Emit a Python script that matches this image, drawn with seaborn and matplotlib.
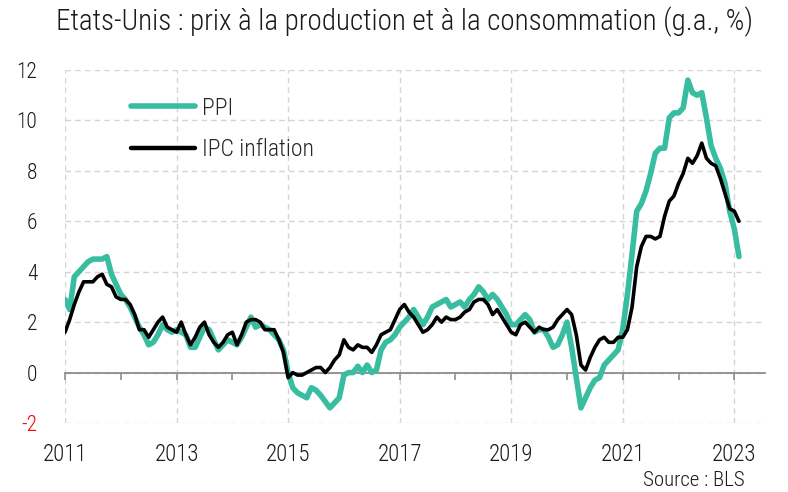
import numpy as np
import pandas as pd
import matplotlib
matplotlib.use("Agg")
import matplotlib.pyplot as plt
import matplotlib.ticker as mticker
from matplotlib import font_manager
import seaborn as sns

# ---------------- data ----------------
start_year = 2011
ppi = [
    2.9, 2.5, 3.8, 4.0, 4.2, 4.4, 4.5, 4.5, 4.5, 4.6, 3.9, 3.5,      # 2011
    3.1, 2.9, 2.6, 2.2, 1.8, 1.5, 1.1, 1.2, 1.5, 1.9, 1.7, 1.6,      # 2012
    1.7, 1.6, 1.5, 1.0, 1.0, 1.4, 1.8, 1.7, 1.3, 0.9, 1.1, 1.3,      # 2013
    1.2, 1.1, 1.4, 1.8, 2.2, 1.8, 1.9, 1.8, 1.7, 1.5, 1.3, 0.9,      # 2014
    0.0, -0.6, -0.8, -0.9, -1.0, -0.6, -0.7, -0.9, -1.15, -1.4, -1.2, -1.0,  # 2015
    -0.1, 0.0, 0.0, 0.25, 0.0, 0.3, 0.0, 0.1, 0.9, 1.2, 1.3, 1.5,    # 2016
    1.8, 2.0, 2.2, 2.5, 2.2, 1.9, 2.2, 2.6, 2.7, 2.8, 2.9, 2.6,      # 2017
    2.7, 2.8, 2.6, 2.9, 3.1, 3.4, 3.2, 2.9, 3.1, 2.9, 2.6, 2.3,      # 2018
    1.9, 1.9, 2.1, 2.3, 2.1, 1.6, 1.7, 1.7, 1.4, 1.0, 1.1, 1.5,      # 2019
    2.0, 1.0, -0.2, -1.4, -1.0, -0.6, -0.3, -0.2, 0.3, 0.5, 0.7, 0.9,  # 2020
    1.7, 3.1, 4.7, 6.4, 6.7, 7.2, 7.9, 8.7, 8.9, 8.9, 10.1, 10.3,    # 2021
    10.3, 10.5, 11.6, 11.1, 11.0, 11.1, 10.1, 9.0, 8.5, 8.1, 7.5, 6.4,  # 2022
    5.7, 4.6,                                                         # 2023
]
cpi = [
    1.6, 2.1, 2.7, 3.2, 3.6, 3.6, 3.6, 3.8, 3.9, 3.5, 3.4, 3.0,      # 2011
    2.9, 2.9, 2.7, 2.3, 1.7, 1.7, 1.4, 1.7, 2.0, 2.2, 1.8, 1.7,      # 2012
    1.6, 2.0, 1.5, 1.1, 1.4, 1.8, 2.0, 1.5, 1.2, 1.0, 1.2, 1.5,      # 2013
    1.6, 1.1, 1.5, 2.0, 2.1, 2.1, 2.0, 1.7, 1.7, 1.7, 1.3, 0.8,      # 2014
    -0.2, 0.0, -0.1, -0.1, 0.0, 0.1, 0.2, 0.2, 0.0, 0.2, 0.5, 0.7,   # 2015
    1.3, 1.0, 0.9, 1.1, 1.0, 1.0, 0.8, 1.1, 1.5, 1.6, 1.7, 2.1,      # 2016
    2.5, 2.7, 2.4, 2.2, 1.9, 1.6, 1.7, 1.9, 2.2, 2.0, 2.2, 2.1,      # 2017
    2.1, 2.2, 2.4, 2.5, 2.8, 2.9, 2.9, 2.7, 2.3, 2.5, 2.2, 1.9,      # 2018
    1.6, 1.5, 1.9, 2.0, 1.8, 1.6, 1.8, 1.7, 1.7, 1.8, 2.1, 2.3,      # 2019
    2.5, 2.3, 1.5, 0.3, 0.1, 0.6, 1.0, 1.3, 1.4, 1.2, 1.2, 1.4,      # 2020
    1.4, 1.7, 2.6, 4.2, 5.0, 5.4, 5.4, 5.3, 5.4, 6.2, 6.8, 7.0,      # 2021
    7.5, 7.9, 8.5, 8.3, 8.6, 9.1, 8.5, 8.3, 8.2, 7.7, 7.1, 6.5,      # 2022
    6.4, 6.0,                                                         # 2023
]
series_names = ["PPI", "IPC inflation"]
series_colors = ["#38BDA0", "#000000"]
title = "Etats-Unis : prix à la production et à la consommation (g.a., %)"
source = "Source : BLS"
y_ticks = [-2, 0, 2, 4, 6, 8, 10, 12]
x_label_years = [2011, 2013, 2015, 2017, 2019, 2021, 2023]

# ---------------- frame ----------------
n = len(ppi)
t = start_year + np.arange(n) / 12.0
df = pd.DataFrame({
    "t": np.concatenate([t, t]),
    "value": np.concatenate([ppi, cpi]),
    "series": [series_names[0]] * n + [series_names[1]] * n,
})

# ---------------- font ----------------
avail = {f.name for f in font_manager.fontManager.ttflist}
family = "DejaVu Sans"
for cand in ["Liberation Sans Narrow", "Roboto Condensed", "Noto Sans Condensed",
             "Open Sans Condensed", "Roboto", "Noto Sans"]:
    if cand in avail:
        family = cand
        break

sns.set_theme(style="white")
plt.rcParams["font.family"] = [family, "DejaVu Sans"]
plt.rcParams["font.weight"] = "light"

fig = plt.figure(figsize=(7.88, 4.92), dpi=100)
ax = fig.add_axes([65 / 788, 1 - 423 / 492, 700 / 788, 353 / 492])

sns.lineplot(data=df[df.series == series_names[0]], x="t", y="value", ax=ax,
             color=series_colors[0], lw=4.0, label=series_names[0],
             solid_capstyle="round", solid_joinstyle="round")
sns.lineplot(data=df[df.series == series_names[1]], x="t", y="value", ax=ax,
             color=series_colors[1], lw=2.6, label=series_names[1],
             solid_capstyle="round", solid_joinstyle="round")

ax.set_xlim(2011, 2023.55)
ax.set_ylim(-2, 12)
ax.set_xlabel("")
ax.set_ylabel("")

for s in ["left", "right", "top"]:
    ax.spines[s].set_visible(False)
ax.spines["bottom"].set_position(("data", 0))
ax.spines["bottom"].set_color("#8c8c8c")
ax.spines["bottom"].set_linewidth(1.3)
ax.spines["bottom"].set_zorder(1)

ax.xaxis.set_major_locator(mticker.FixedLocator(x_label_years))
ax.xaxis.set_minor_locator(mticker.MultipleLocator(1))
ax.xaxis.set_major_formatter(mticker.FuncFormatter(lambda v, p: f"{int(round(v))}"))
ax.tick_params(axis="x", which="both", direction="out", length=5, width=1.2,
               color="#8c8c8c", bottom=True)
ax.tick_params(axis="x", which="major", pad=46, labelsize=16.5, labelcolor="#1a1a1a")

ax.set_yticks(y_ticks)
ax.yaxis.set_major_formatter(mticker.FuncFormatter(lambda v, p: f"{int(v)}"))
ax.tick_params(axis="y", length=0, pad=20, labelsize=15.5, labelcolor="#1a1a1a")
for lab, v in zip(ax.get_yticklabels(), y_ticks):
    lab.set_color("#ff0000" if v < 0 else "#1a1a1a")

ax.grid(True, which="major", axis="both", color="#d4d4d4", linestyle=(0, (4, 3)), lw=1.0)
ax.set_axisbelow(True)

leg = ax.legend(loc="upper left", bbox_to_anchor=(0.064, 0.985), frameon=False,
                fontsize=17, handlelength=2.7, handletextpad=0.3, labelspacing=0.8)
for line in leg.get_lines():
    line.set_solid_capstyle("round")
leg.get_lines()[0].set_linewidth(4.0)
leg.get_lines()[1].set_linewidth(3.2)

fig.text(405 / 788, 1 - 22 / 492, title, ha="center", va="center", fontsize=21,
         color="#1a1a1a")
fig.text(745 / 788, 1 - 481 / 492, source, ha="right", va="center", fontsize=15,
         color="#1a1a1a")

fig.savefig("out.png", dpi=100)
